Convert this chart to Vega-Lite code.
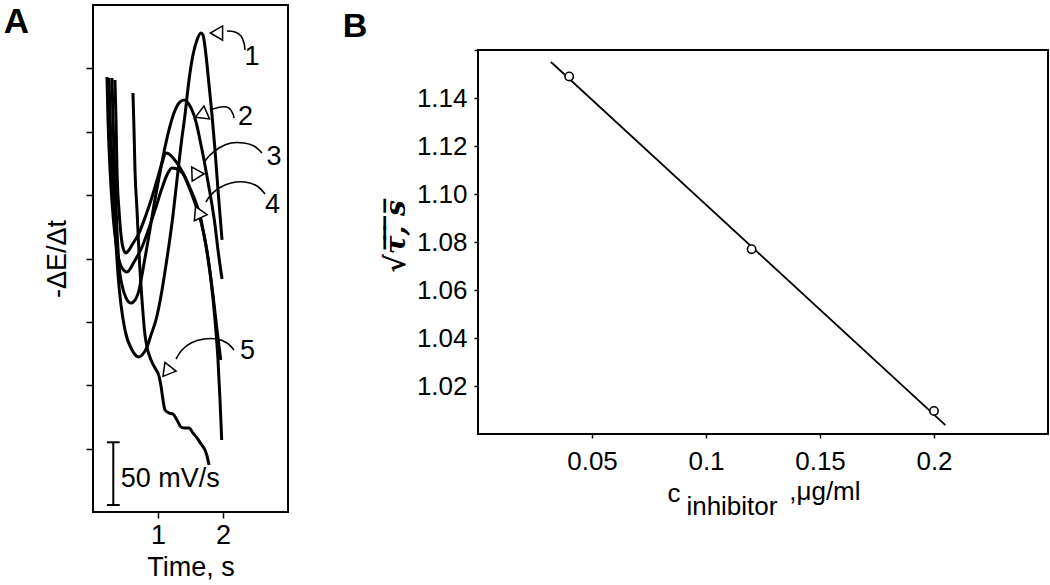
{
  "$schema": "https://vega.github.io/schema/vega-lite/v6.json",
  "background": "white",
  "padding": {"left": 2, "top": 4, "right": 1, "bottom": 0},
  "spacing": 53,
  "config": {
    "font": "Liberation Sans",
    "view": {"stroke": "black", "strokeWidth": 2},
    "axis": {"grid": false, "domain": false, "tickColor": "black", "tickWidth": 1.5, "labelColor": "black", "titleColor": "black", "titleFontWeight": "normal", "labelFont": "Liberation Sans", "titleFont": "Liberation Sans"},
    "title": {"color": "black", "font": "Liberation Sans", "fontWeight": "bold"}
  },
  "datasets": {
    "curvesA": [
      {"c":1,"t":0.246,"v":6.848},{"c":1,"t":0.262,"v":6.264},{"c":1,"t":0.292,"v":5.554},{"c":1,"t":0.323,"v":4.765},{"c":1,"t":0.354,"v":4.213},{"c":1,"t":0.385,"v":3.740},{"c":1,"t":0.431,"v":3.266},{"c":1,"t":0.492,"v":2.872},{"c":1,"t":0.600,"v":2.556},{"c":1,"t":0.708,"v":2.446},{"c":1,"t":0.754,"v":2.477},{"c":1,"t":0.831,"v":2.604},{"c":1,"t":0.892,"v":2.793},{"c":1,"t":0.969,"v":3.030},{"c":1,"t":1.062,"v":3.503},{"c":1,"t":1.123,"v":3.897},{"c":1,"t":1.169,"v":4.213},{"c":1,"t":1.231,"v":4.686},{"c":1,"t":1.292,"v":5.239},{"c":1,"t":1.354,"v":5.791},{"c":1,"t":1.415,"v":6.264},{"c":1,"t":1.477,"v":6.817},{"c":1,"t":1.538,"v":7.211},{"c":1,"t":1.600,"v":7.448},{"c":1,"t":1.662,"v":7.558},{"c":1,"t":1.692,"v":7.527},{"c":1,"t":1.738,"v":7.211},{"c":1,"t":1.785,"v":6.738},{"c":1,"t":1.831,"v":6.264},{"c":1,"t":1.877,"v":5.712},{"c":1,"t":1.923,"v":5.081},{"c":1,"t":1.985,"v":4.292},
      {"c":2,"t":0.292,"v":6.848},{"c":2,"t":0.308,"v":6.185},{"c":2,"t":0.338,"v":5.239},{"c":2,"t":0.369,"v":4.450},{"c":2,"t":0.400,"v":3.897},{"c":2,"t":0.446,"v":3.582},{"c":2,"t":0.508,"v":3.377},{"c":2,"t":0.580,"v":3.298},{"c":2,"t":0.646,"v":3.345},{"c":2,"t":0.708,"v":3.503},{"c":2,"t":0.754,"v":3.740},{"c":2,"t":0.800,"v":4.008},{"c":2,"t":0.862,"v":4.371},{"c":2,"t":0.938,"v":4.844},{"c":2,"t":1.015,"v":5.270},{"c":2,"t":1.092,"v":5.680},{"c":2,"t":1.169,"v":6.028},{"c":2,"t":1.246,"v":6.296},{"c":2,"t":1.323,"v":6.454},{"c":2,"t":1.400,"v":6.501},{"c":2,"t":1.462,"v":6.454},{"c":2,"t":1.523,"v":6.343},{"c":2,"t":1.585,"v":6.154},{"c":2,"t":1.646,"v":5.870},{"c":2,"t":1.708,"v":5.554},{"c":2,"t":1.769,"v":5.207},{"c":2,"t":1.831,"v":4.844},{"c":2,"t":1.877,"v":4.529},{"c":2,"t":1.923,"v":4.134},{"c":2,"t":1.985,"v":3.677},
      {"c":3,"t":0.338,"v":6.817},{"c":3,"t":0.354,"v":6.185},{"c":3,"t":0.369,"v":5.396},{"c":3,"t":0.400,"v":4.765},{"c":3,"t":0.431,"v":4.371},{"c":3,"t":0.462,"v":4.166},{"c":3,"t":0.503,"v":4.087},{"c":3,"t":0.554,"v":4.134},{"c":3,"t":0.600,"v":4.213},{"c":3,"t":0.708,"v":4.402},{"c":3,"t":0.815,"v":4.686},{"c":3,"t":0.908,"v":4.970},{"c":3,"t":0.985,"v":5.239},{"c":3,"t":1.062,"v":5.507},{"c":3,"t":1.118,"v":5.665},{"c":3,"t":1.169,"v":5.649},{"c":3,"t":1.231,"v":5.586},{"c":3,"t":1.292,"v":5.507},{"c":3,"t":1.385,"v":5.349},{"c":3,"t":1.477,"v":5.128},{"c":3,"t":1.569,"v":4.876},{"c":3,"t":1.662,"v":4.576},{"c":3,"t":1.738,"v":4.213},{"c":3,"t":1.785,"v":3.897},{"c":3,"t":1.846,"v":3.424},{"c":3,"t":1.908,"v":2.872},{"c":3,"t":1.965,"v":2.398},
      {"c":4,"t":0.215,"v":6.864},{"c":4,"t":0.231,"v":6.185},{"c":4,"t":0.262,"v":5.396},{"c":4,"t":0.308,"v":4.686},{"c":4,"t":0.369,"v":4.134},{"c":4,"t":0.446,"v":3.850},{"c":4,"t":0.523,"v":3.787},{"c":4,"t":0.631,"v":3.945},{"c":4,"t":0.754,"v":4.181},{"c":4,"t":0.862,"v":4.481},{"c":4,"t":0.969,"v":4.813},{"c":4,"t":1.062,"v":5.112},{"c":4,"t":1.138,"v":5.318},{"c":4,"t":1.215,"v":5.428},{"c":4,"t":1.323,"v":5.396},{"c":4,"t":1.415,"v":5.286},{"c":4,"t":1.492,"v":5.112},{"c":4,"t":1.569,"v":4.923},{"c":4,"t":1.646,"v":4.686},{"c":4,"t":1.708,"v":4.371},{"c":4,"t":1.769,"v":4.008},{"c":4,"t":1.815,"v":3.661},{"c":4,"t":1.877,"v":3.030},{"c":4,"t":1.923,"v":2.398},{"c":4,"t":1.954,"v":1.767},{"c":4,"t":1.980,"v":1.136},
      {"c":5,"t":0.615,"v":6.611},{"c":5,"t":0.631,"v":6.028},{"c":5,"t":0.646,"v":5.396},{"c":5,"t":0.677,"v":4.765},{"c":5,"t":0.708,"v":4.087},{"c":5,"t":0.754,"v":3.345},{"c":5,"t":0.800,"v":2.793},{"c":5,"t":0.831,"v":2.604},{"c":5,"t":0.892,"v":2.398},{"c":5,"t":0.954,"v":2.272},{"c":5,"t":1.015,"v":2.146},{"c":5,"t":1.046,"v":1.988},{"c":5,"t":1.077,"v":1.767},{"c":5,"t":1.108,"v":1.609},{"c":5,"t":1.169,"v":1.562},{"c":5,"t":1.231,"v":1.546},{"c":5,"t":1.292,"v":1.452},{"c":5,"t":1.354,"v":1.341},{"c":5,"t":1.415,"v":1.325},{"c":5,"t":1.477,"v":1.325},{"c":5,"t":1.538,"v":1.247},{"c":5,"t":1.600,"v":1.168},{"c":5,"t":1.662,"v":1.073},{"c":5,"t":1.723,"v":0.978},{"c":5,"t":1.754,"v":0.884},{"c":5,"t":1.785,"v":0.742}
    ],
    "arcsA": [
      {"a":1,"t":2.062,"v":7.590},{"a":1,"t":2.185,"v":7.574},{"a":1,"t":2.277,"v":7.511},{"a":1,"t":2.323,"v":7.400},{"a":1,"t":2.338,"v":7.290},
      {"a":2,"t":1.800,"v":6.343},{"a":2,"t":1.969,"v":6.391},{"a":2,"t":2.092,"v":6.375},{"a":2,"t":2.154,"v":6.280},{"a":2,"t":2.169,"v":6.217},
      {"a":3,"t":2.600,"v":5.665},{"a":3,"t":2.477,"v":5.775},{"a":3,"t":2.323,"v":5.822},{"a":3,"t":2.123,"v":5.822},{"a":3,"t":1.938,"v":5.744},{"a":3,"t":1.785,"v":5.617},{"a":3,"t":1.708,"v":5.507},
      {"a":4,"t":2.646,"v":5.018},{"a":4,"t":2.523,"v":5.144},{"a":4,"t":2.338,"v":5.207},{"a":4,"t":2.123,"v":5.191},{"a":4,"t":1.938,"v":5.112},{"a":4,"t":1.800,"v":4.986},{"a":4,"t":1.738,"v":4.891},
      {"a":5,"t":2.169,"v":2.556},{"a":5,"t":2.062,"v":2.667},{"a":5,"t":1.908,"v":2.730},{"a":5,"t":1.708,"v":2.730},{"a":5,"t":1.508,"v":2.667},{"a":5,"t":1.369,"v":2.556},{"a":5,"t":1.277,"v":2.414}
    ],
    "headsA": [
      {"t":1.931,"v":7.558,"ang":270},{"t":1.692,"v":6.280,"ang":247},{"t":1.585,"v":5.333,"ang":208},{"t":1.631,"v":4.702,"ang":215},{"t":1.154,"v":2.241,"ang":218}
    ],
    "labelsA": [
      {"t":2.446,"v":7.180,"label":"1"},{"t":2.346,"v":6.225,"label":"2"},{"t":2.785,"v":5.602,"label":"3"},{"t":2.762,"v":4.844,"label":"4"},{"t":2.377,"v":2.533,"label":"5"}
    ],
    "scaleBarA": [
      {"t":0.312,"v":1.100,"t2":0.312,"v2":0.110},{"t":0.215,"v":1.100,"t2":0.411,"v2":1.100},{"t":0.215,"v":0.110,"t2":0.411,"v2":0.110}
    ],
    "scaleTextA": [{"t":0.426,"v":0.394,"label":"50 mV/s"}],
    "frameB": [{"x":0,"x2":0.25,"y":1.0,"y2":1.16}],
    "panelLabelB": [{"x":-0.0593,"y":1.1654,"label":"B"}],
    "fitB": [{"x":0.032,"y":1.155},{"x":0.205,"y":1.0037}],
    "pointsB": [{"x":0.04,"y":1.149},{"x":0.12,"y":1.077},{"x":0.2,"y":1.0096}],
    "xTitleB": [{"x":0.0831,"y":0.97167,"label":"c"},{"x":0.0914,"y":0.96625,"label":"inhibitor"},{"x":0.1365,"y":0.9725,"label":",μg/ml"}]
  },
  "hconcat": [
    {
      "width": 195,
      "height": 507,
      "title": {"text": "A", "orient": "left", "anchor": "end", "angle": 0, "fontSize": 35, "baseline": "top", "align": "right", "offset": -11},
      "encoding": {
        "x": {"field": "t", "type": "quantitative", "scale": {"domain": [0, 3], "nice": false, "zero": false},
              "axis": {"values": [1, 2], "format": "d", "labelFontSize": 27, "tickSize": 6, "labelPadding": 4, "title": "Time, s", "titleFontSize": 27, "titlePadding": 6}},
        "y": {"field": "v", "type": "quantitative", "scale": {"domain": [0, 8], "nice": false, "zero": false},
              "axis": {"values": [1, 2, 3, 4, 5, 6, 7], "labels": false, "tickSize": 7, "title": "-ΔE/Δt", "titleFontSize": 27, "titlePadding": 14}}
      },
      "layer": [
        {"data": {"name": "curvesA"}, "mark": {"type": "line", "color": "black", "strokeWidth": 3, "interpolate": "monotone"},
         "encoding": {"detail": {"field": "c", "type": "nominal"}, "order": {"value": null}}},
        {"data": {"name": "arcsA"}, "mark": {"type": "line", "color": "black", "strokeWidth": 1.6, "interpolate": "cardinal"},
         "encoding": {"detail": {"field": "a", "type": "nominal"}, "order": {"value": null}}},
        {"data": {"name": "headsA"}, "mark": {"type": "point", "shape": "triangle", "filled": true, "fill": "white", "stroke": "black", "strokeWidth": 1.5, "size": 200, "opacity": 1},
         "encoding": {"angle": {"field": "ang", "type": "quantitative", "scale": null}}},
        {"data": {"name": "labelsA"}, "mark": {"type": "text", "fontSize": 27, "color": "black", "align": "center", "baseline": "middle"},
         "encoding": {"text": {"field": "label"}}},
        {"data": {"name": "scaleBarA"}, "mark": {"type": "rule", "color": "black", "strokeWidth": 2},
         "encoding": {"x2": {"field": "t2"}, "y2": {"field": "v2"}}},
        {"data": {"name": "scaleTextA"}, "mark": {"type": "text", "fontSize": 27, "color": "black", "align": "left", "baseline": "alphabetic"},
         "encoding": {"text": {"field": "label"}}}
      ]
    },
    {
      "width": 570,
      "height": 429,
      "view": {"stroke": null},
      "encoding": {
        "x": {"field": "x", "type": "quantitative", "scale": {"domain": [0, 0.25], "nice": false, "zero": false},
              "axis": {"values": [0.05, 0.1, 0.15, 0.2], "format": "~g", "labelFontSize": 26, "tickSize": 4, "labelPadding": 10, "title": null}},
        "y": {"field": "y", "type": "quantitative", "scale": {"domain": [1.0, 1.17875], "nice": false, "zero": false},
              "axis": {"values": [1.02, 1.04, 1.06, 1.08, 1.1, 1.12, 1.14, 1.16], "labelExpr": "datum.value > 1.15 ? '' : format(datum.value, '.2f')", "labelFontSize": 26, "tickSize": 4, "labelPadding": 7,
                       "title": "√τ̅,̅ ̅s̅", "titleFont": "DejaVu Serif", "titleFontStyle": "italic", "titleFontWeight": "bold", "titleFontSize": 28, "titlePadding": 6, "titleY": 231}}
      },
      "layer": [
        {"data": {"name": "frameB"}, "mark": {"type": "rect", "filled": false, "color": "black", "strokeWidth": 2},
         "encoding": {"x2": {"field": "x2"}, "y2": {"field": "y2"}}},
        {"data": {"name": "panelLabelB"}, "mark": {"type": "text", "fontSize": 34, "fontWeight": "bold", "color": "black", "align": "left", "baseline": "alphabetic"},
         "encoding": {"text": {"field": "label"}}},
        {"data": {"name": "fitB"}, "mark": {"type": "line", "color": "black", "strokeWidth": 1.8}, "encoding": {}},
        {"data": {"name": "pointsB"}, "mark": {"type": "point", "shape": "circle", "filled": true, "fill": "white", "stroke": "black", "strokeWidth": 1.6, "size": 70, "opacity": 1}, "encoding": {}},
        {"data": {"name": "xTitleB"}, "mark": {"type": "text", "fontSize": 26, "color": "black", "align": "left", "baseline": "alphabetic"},
         "encoding": {"text": {"field": "label"}}}
      ]
    }
  ]
}
